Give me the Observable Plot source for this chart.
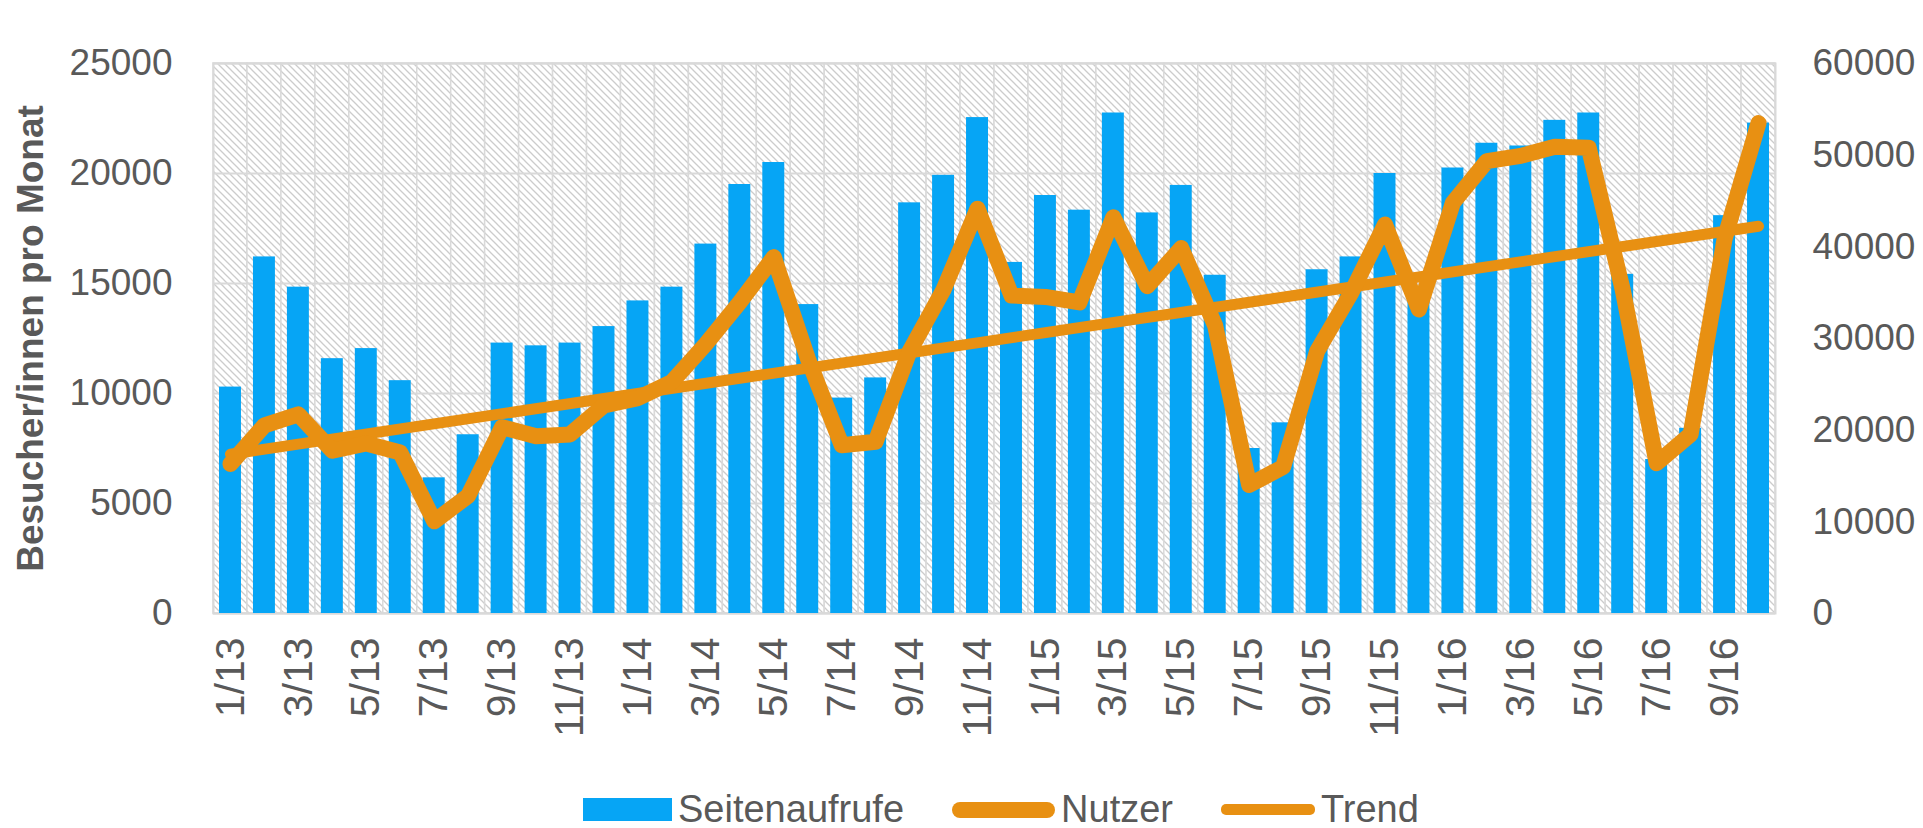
<!DOCTYPE html>
<html>
<head>
<meta charset="utf-8">
<script src="https://cdn.jsdelivr.net/npm/d3@7"></script>
<script src="https://cdn.jsdelivr.net/npm/@observablehq/plot@0.6"></script>
<style>
  html, body { margin: 0; padding: 0; background: #ffffff; }
  body { font-family: "Liberation Sans", Arial, sans-serif; width: 1923px; height: 828px; overflow: hidden; }
  #chart svg { display: block; }
  #chart g[aria-label="y-axis label"] text { font-weight: bold; font-size: 37px; }
  .legend { display: flex; align-items: center; height: 37px; margin-top: 16px; padding-left: 583px;
            color: #595959; font-size: 38px; font-family: "Liberation Sans", Arial, sans-serif; }
  .legend .sw { display: inline-block; margin-right: 6px; }
  .legend .lab { margin-right: 48px; }
</style>
</head>
<body>
<svg width="0" height="0" style="position:absolute">
  <defs>
    <pattern id="hatch" patternUnits="userSpaceOnUse" width="7" height="7">
      <rect width="7" height="7" fill="#ffffff"></rect>
      <path d="M-1,-1 L8,8 M-1,6 L1,8 M6,-1 L8,1" stroke="#cccccc" stroke-width="1.3"></path>
    </pattern>
  </defs>
</svg>
<div id="chart"></div>
<div class="legend" id="legend"></div>
<script>
// Categories (months)
const months = [
  "1/13","2/13","3/13","4/13","5/13","6/13","7/13","8/13","9/13","10/13","11/13","12/13",
  "1/14","2/14","3/14","4/14","5/14","6/14","7/14","8/14","9/14","10/14","11/14","12/14",
  "1/15","2/15","3/15","4/15","5/15","6/15","7/15","8/15","9/15","10/15","11/15","12/15",
  "1/16","2/16","3/16","4/16","5/16","6/16","7/16","8/16","9/16","10/16"
];
// Tick labels shown on the x axis (every second month)
const tickMonths = [
  "1/13","3/13","5/13","7/13","9/13","11/13","1/14","3/14","5/14","7/14","9/14","11/14",
  "1/15","3/15","5/15","7/15","9/15","11/15","1/16","3/16","5/16","7/16","9/16"
];
// Seitenaufrufe (right axis, 0-60000)
const seitenaufrufe = [
  24700, 38900, 35600, 27800, 28900, 25400, 14800, 19500, 29500, 29200, 29500, 31300,
  34100, 35600, 40300, 46800, 49200, 33700, 23500, 25700, 44800, 47800, 54100, 38300,
  45600, 44000, 54600, 43700, 46700, 36900, 18000, 20800, 37500, 38900, 48000, 34800,
  48600, 51300, 51000, 53800, 54600, 37000, 16800, 20200, 43400, 53500
];
// Nutzer (left axis, 0-25000)
const nutzer = [
  6800, 8550, 9050, 7400, 7730, 7320, 4190, 5350, 8470, 8060, 8140, 9460,
  9790, 10530, 12250, 14150, 16200, 11600, 7650, 7810, 11920, 14720, 18400, 14450,
  14390, 14140, 18010, 14880, 16610, 13080, 5840, 6660, 11920, 14560, 17680, 13820,
  18670, 20560, 20800, 21220, 21170, 14720, 6830, 8140, 17020, 22290
];
// Trend (linear, endpoints, left axis)
const trendMonths = ["1/13", "10/16"];
const trendValues = [7240, 17600];

const seriesNames = ["Seitenaufrufe", "Nutzer", "Trend"];
const leftTicks = [0, 5000, 10000, 15000, 20000, 25000];
const rightTicks = [0, 10000, 20000, 30000, 40000, 50000, 60000];
const leftMax = 25000, rightMax = 60000;
const k = leftMax / rightMax;

const blue = "#06A5F5";
const orange = "#E89012";
const textColor = "#595959";

const rows = months.map((m, i) => ({month: m, views: seitenaufrufe[i], users: nutzer[i]}));
const trend = trendMonths.map((m, i) => ({month: m, value: trendValues[i]}));

const chart = Plot.plot({
  width: 1923,
  height: 775,
  marginTop: 63,
  marginBottom: 162,
  marginLeft: 213,
  marginRight: 148,
  style: {fontFamily: '"Liberation Sans", Arial, sans-serif', fontSize: "37px", color: textColor, background: "transparent", overflow: "visible"},
  x: {type: "band", domain: months, padding: 0},
  y: {domain: [0, leftMax]},
  marks: [
    Plot.cell(months, {x: d => d, fill: "url(#hatch)", stroke: "#d9d9d9", strokeWidth: 1.5}),
    Plot.gridY(leftTicks, {stroke: "#d9d9d9", strokeOpacity: 1, strokeWidth: 2}),
    Plot.frame({stroke: "#d9d9d9", strokeWidth: 2}),
    Plot.barY(rows, {x: "month", y: d => d.views * k, fill: blue, insetLeft: 6, insetRight: 6}),
    Plot.line(trend, {x: "month", y: "value", stroke: orange, strokeWidth: 11, strokeLinecap: "round"}),
    Plot.line(rows, {x: "month", y: "users", stroke: orange, strokeWidth: 16, strokeLinejoin: "round", strokeLinecap: "round"}),
    Plot.axisY(leftTicks, {anchor: "left", tickSize: 0, tickPadding: 41, fill: textColor,
      tickFormat: v => String(v),
      label: "Besucher/innen pro Monat", labelAnchor: "center", labelArrow: "none", labelOffset: 197}),
    Plot.axisY(rightTicks.map(v => v * k), {anchor: "right", tickSize: 0, tickPadding: 37, fill: textColor,
      tickFormat: v => String(Math.round(v / k)), label: null}),
    Plot.axisX(tickMonths, {anchor: "bottom", tickSize: 0, tickPadding: 24, tickRotate: -90, fill: textColor,
      fontSize: 41, label: null})
  ]
});
document.getElementById("chart").appendChild(chart);

// Legend
const legend = document.getElementById("legend");
const swatchStyles = [
  "width:89px;height:23px;background:" + blue + ";",
  "width:103px;height:16px;border-radius:8px;background:" + orange + ";",
  "width:94px;height:11px;border-radius:5px;background:" + orange + ";"
];
seriesNames.forEach((name, i) => {
  const sw = document.createElement("span");
  sw.className = "sw";
  sw.style.cssText = swatchStyles[i];
  legend.appendChild(sw);
  const lab = document.createElement("span");
  lab.className = "lab";
  lab.textContent = name;
  legend.appendChild(lab);
});
</script>
</body>
</html>
